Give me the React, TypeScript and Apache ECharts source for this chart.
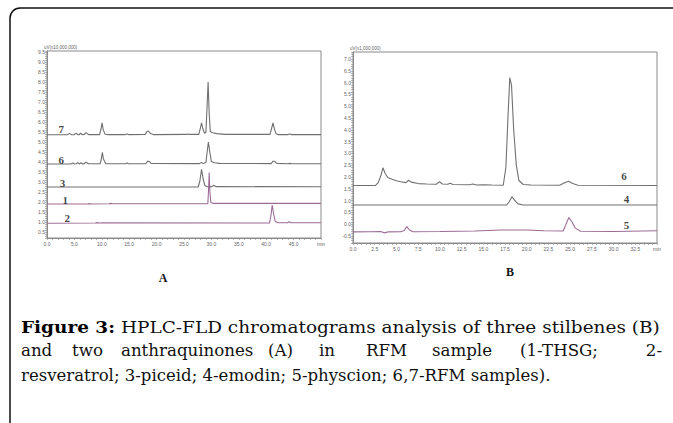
import React, { useEffect, useRef } from "react";
import * as echarts from "echarts";

// ---------- Panel A (time in min, signal in uV x10,000,000) ----------
const traceA7: [number, number][] = [
  [0, 5.36], [3.7, 5.36], [4.1, 5.43], [4.5, 5.36], [5.0, 5.37], [5.3, 5.44], [5.7, 5.36],
  [5.9, 5.37], [6.1, 5.44], [6.5, 5.36], [6.8, 5.38], [7.1, 5.47], [7.6, 5.37], [9.6, 5.37],
  [9.85, 5.65], [10.05, 5.96], [10.25, 5.62], [10.6, 5.39], [11.2, 5.37], [14.3, 5.37],
  [14.6, 5.4], [14.9, 5.37], [17.9, 5.38], [18.25, 5.52], [18.5, 5.55], [18.9, 5.42],
  [19.4, 5.37], [25.4, 5.38], [25.6, 5.4], [25.8, 5.38], [27.7, 5.38], [27.95, 5.65],
  [28.2, 5.96], [28.45, 5.65], [28.75, 5.43], [29.0, 5.5], [29.2, 6.7], [29.4, 8.0],
  [29.6, 6.4], [29.8, 5.52], [30.2, 5.46], [31.0, 5.42], [32.5, 5.38], [40.7, 5.38],
  [41.0, 5.7], [41.25, 5.96], [41.5, 5.66], [41.8, 5.41], [42.2, 5.37], [44.0, 5.37],
  [44.3, 5.4], [44.6, 5.37], [50, 5.37],
];
const traceA6: [number, number][] = [
  [0, 3.9], [4.4, 3.9], [4.7, 3.95], [5.0, 3.9], [5.3, 3.91], [5.6, 3.97], [5.9, 3.9],
  [6.0, 3.91], [6.2, 3.96], [6.5, 3.9], [6.8, 3.92], [7.1, 3.99], [7.6, 3.91], [9.7, 3.91],
  [9.95, 4.2], [10.1, 4.48], [10.3, 4.15], [10.7, 3.92], [14.3, 3.91], [14.6, 3.95],
  [14.9, 3.91], [18.0, 3.92], [18.35, 4.03], [18.6, 4.04], [19.0, 3.93], [27.8, 3.92],
  [28.15, 3.98], [28.5, 3.92], [29.0, 3.97], [29.2, 4.45], [29.45, 5.0], [29.7, 4.5],
  [30.0, 4.02], [30.5, 3.96], [31.5, 3.93], [40.9, 3.92], [41.25, 4.04], [41.5, 4.04],
  [41.9, 3.93], [44.0, 3.91], [44.3, 3.93], [44.6, 3.91], [50, 3.91],
];
const traceA3: [number, number][] = [
  [0, 2.75], [27.6, 2.75], [27.9, 3.05], [28.2, 3.63], [28.5, 3.15], [28.8, 2.82],
  [29.2, 2.76], [30.1, 2.77], [30.45, 2.84], [30.8, 2.77], [50, 2.76],
];
const traceA1: [number, number][] = [
  [0, 1.9], [7.4, 1.9], [7.7, 1.92], [8.0, 1.9], [11.3, 1.91], [11.6, 1.93], [11.9, 1.91],
  [29.35, 1.91], [29.48, 2.6], [29.6, 3.48], [29.72, 2.5], [29.9, 1.98], [30.4, 1.93],
  [44.0, 1.93], [50, 1.93],
];
const traceA2: [number, number][] = [
  [0, 0.94], [8.8, 0.95], [9.2, 0.97], [9.6, 0.95], [10.2, 0.96], [40.6, 0.95], [40.85, 1.3],
  [41.1, 1.85], [41.35, 1.4], [41.65, 1.03], [42.2, 0.96], [43.9, 0.96], [44.2, 1.01],
  [44.5, 0.96], [50, 0.96],
];
const labelsA: [number, number, string][] = [
  [2.6, 5.63, "7"], [2.6, 4.08, "6"], [2.85, 2.96, "3"], [3.35, 2.11, "1"], [3.7, 1.21, "2"],
];

// ---------- Panel B (time in min, signal in uV x1,000,000) ----------
const traceB6: [number, number][] = [
  [0, 1.64], [2.6, 1.64], [2.9, 1.76], [3.2, 2.05], [3.45, 2.39], [3.7, 2.15], [4.0, 1.98],
  [4.5, 1.9], [5.0, 1.84], [5.5, 1.8], [6.1, 1.76], [6.4, 1.86], [6.7, 1.78], [7.5, 1.72],
  [8.5, 1.7], [9.6, 1.69], [9.95, 1.8], [10.3, 1.7], [10.9, 1.69], [11.2, 1.73], [11.5, 1.68],
  [13.4, 1.67], [13.8, 1.7], [14.2, 1.66], [15.0, 1.67], [16.0, 1.66], [17.3, 1.65],
  [17.6, 2.4], [17.85, 4.6], [18.05, 6.21], [18.25, 5.9], [18.5, 4.0], [18.8, 2.5],
  [19.1, 1.85], [19.6, 1.68], [20.5, 1.66], [23.8, 1.65], [24.3, 1.74], [24.8, 1.82],
  [25.3, 1.72], [25.9, 1.65], [35, 1.64],
];
const traceB4: [number, number][] = [
  [0, 0.81], [17.7, 0.81], [18.0, 0.96], [18.3, 1.16], [18.6, 1.02], [19.0, 0.86],
  [19.6, 0.81], [35, 0.81],
];
const traceB5: [number, number][] = [
  [0, -0.33], [2.0, -0.32], [3.2, -0.31], [3.6, -0.37], [4.0, -0.33], [5.5, -0.32],
  [5.9, -0.27], [6.2, -0.1], [6.5, -0.25], [6.9, -0.32], [10.0, -0.31], [14.0, -0.29],
  [17.0, -0.25], [20.0, -0.25], [22.0, -0.28], [24.2, -0.29], [24.5, -0.02], [24.85, 0.28],
  [25.2, 0.1], [25.6, -0.17], [26.2, -0.3], [30.0, -0.31], [35, -0.28],
];
const labelsB: [number, number, string][] = [
  [31.2, 2.04, "6"], [31.5, 1.05, "4"], [31.5, -0.05, "5"],
];

const captionLine1 = "{b|Figure 3:} HPLC-FLD chromatograms analysis of three stilbenes (B)";
const captionLine2Words = ["and", "two", "anthraquinones", "(A)", "in", "RFM", "sample", "(1-THSG;", "2-"];
const captionLine3 = "resveratrol; 3-piceid; 4-emodin; 5-physcion; 6,7-RFM samples).";

const GRAY = "#707070";
const PURPLE = "#9c6b95";
const AXIS = "#8a8a8a";
const LABEL = "#666";

const isMult = (v: number, step: number) => Math.abs(v / step - Math.round(v / step)) < 1e-6;
const fmt1 = (v: number) => (Math.abs(v) < 1e-6 ? "0.0" : v.toFixed(1));

function xAxis(gridIndex: number, max: number, interval: number, labelStep: number) {
  return {
    type: "value", gridIndex, min: 0, max, interval,
    axisLine: { show: true, onZero: false, lineStyle: { color: AXIS, width: 1 } },
    axisTick: { show: true, length: 2, lineStyle: { color: AXIS, width: 0.6 } },
    splitLine: { show: false },
    axisLabel: {
      show: true, fontSize: 5, color: LABEL, margin: 3, fontFamily: "Liberation Sans",
      showMinLabel: true, showMaxLabel: true, hideOverlap: false,
      formatter: (v: number) => {
        if (!isMult(v, labelStep)) return "";
        if (Math.abs(v - max) < 1e-6) return "min";
        return fmt1(v);
      },
    },
  };
}
function yAxis(gridIndex: number, min: number, max: number, name: string) {
  return {
    type: "value", gridIndex, min, max, interval: 0.1,
    name, nameLocation: "end", nameGap: 1,
    nameTextStyle: { fontSize: 4.5, color: LABEL, align: "left", verticalAlign: "bottom", padding: [0, 0, 0, -3] },
    axisLine: { show: true, onZero: false, lineStyle: { color: AXIS, width: 1 } },
    axisTick: { show: true, length: 2, lineStyle: { color: AXIS, width: 0.6 } },
    splitLine: { show: false },
    axisLabel: {
      show: true, fontSize: 5, color: LABEL, margin: 2, fontFamily: "Liberation Sans",
      formatter: (v: number) => (isMult(v, 0.5) ? fmt1(v) : ""),
    },
  };
}
function trace(data: [number, number][], idx: number, color: string) {
  return {
    type: "line", xAxisIndex: idx, yAxisIndex: idx, data, symbol: "none", silent: true,
    lineStyle: { color, width: 1.1 }, z: color === PURPLE ? 3 : 2,
  };
}
function labels(data: [number, number, string][], idx: number) {
  return {
    type: "scatter", xAxisIndex: idx, yAxisIndex: idx, data, symbolSize: 0, silent: true, z: 5,
    label: {
      show: true, position: "inside", formatter: (p: any) => p.data[2],
      fontFamily: "Liberation Serif", fontWeight: "bold", fontSize: 11, color: "#111",
    },
  };
}

const word2X = [21, 72, 121, 268, 319, 366, 432, 520, 662];

export default function App() {
  const ref = useRef<HTMLDivElement>(null);
  useEffect(() => {
    if (!ref.current) return;
    const chart = echarts.init(ref.current, undefined, { renderer: "svg" });
    const capFont = "DejaVu Serif";
    const cap = { fontFamily: capFont, fontSize: 16, fill: "#111", textVerticalAlign: "middle" };
    chart.setOption({
      animation: false,
      backgroundColor: "#fff",
      grid: [
        { left: 47, top: 51, width: 274, height: 187, show: true, borderColor: AXIS, borderWidth: 1, containLabel: false },
        { left: 353, top: 52, width: 304, height: 191, show: true, borderColor: AXIS, borderWidth: 1, containLabel: false },
      ],
      xAxis: [xAxis(0, 50, 1, 5), xAxis(1, 35, 0.5, 2.5)],
      yAxis: [yAxis(0, 0.2, 9.55, "uV(x10,000,000)"), yAxis(1, -0.8, 7.3, "uV(x1,000,000)")],
      series: [
        trace(traceA7, 0, GRAY), trace(traceA6, 0, GRAY), trace(traceA3, 0, GRAY),
        trace(traceA1, 0, PURPLE), trace(traceA2, 0, PURPLE), labels(labelsA, 0),
        trace(traceB6, 1, GRAY), trace(traceB4, 1, GRAY), trace(traceB5, 1, PURPLE), labels(labelsB, 1),
      ],
      graphic: [
        {
          type: "rect", shape: { x: 10, y: 8, width: 720, height: 470, r: 10 },
          style: { fill: "none", stroke: "#111", lineWidth: 1.5 }, silent: true,
        },
        {
          type: "text", x: 163, y: 278,
          style: { text: "A", fontFamily: "Liberation Serif", fontWeight: "bold", fontSize: 12, fill: "#111", textAlign: "center", textVerticalAlign: "middle" },
        },
        {
          type: "text", x: 510, y: 272,
          style: { text: "B", fontFamily: "Liberation Serif", fontWeight: "bold", fontSize: 12, fill: "#111", textAlign: "center", textVerticalAlign: "middle" },
        },
        {
          type: "text", x: 21, y: 327, scaleX: 1.155,
          style: {
            ...cap, text: captionLine1,
            rich: { b: { fontFamily: capFont, fontWeight: "bold", fontSize: 16, fill: "#000" } },
          },
        },
        ...captionLine2Words.map((w, i) => ({
          type: "text", x: word2X[i], y: 351, scaleX: 1.04,
          style: { ...cap, text: w, textAlign: i === captionLine2Words.length - 1 ? "right" : "left" },
        })),
        {
          type: "text", x: 21, y: 376, scaleX: 1.035,
          style: { ...cap, text: captionLine3 },
        },
      ],
    });
    return () => chart.dispose();
  }, []);
  return (
    <div
      ref={ref}
      style={{ position: "fixed", left: 0, top: 0, width: 673, height: 423, background: "#fff" }}
    />
  );
}
